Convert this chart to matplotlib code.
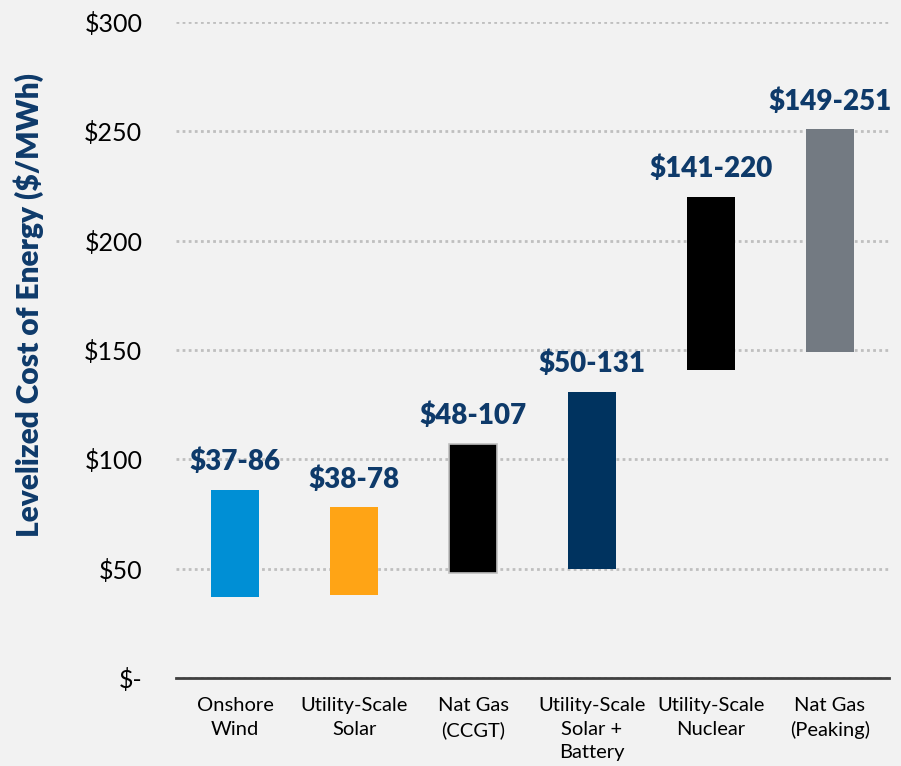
import numpy as np
import matplotlib
matplotlib.use('Agg')
import matplotlib.pyplot as plt

# LCOE ranges ($/MWh)
categories = ['Onshore\nWind', 'Utility-Scale\nSolar', 'Nat Gas\n(CCGT)',
              'Utility-Scale\nSolar +\nBattery', 'Utility-Scale\nNuclear', 'Nat Gas\n(Peaking)']
low = [37, 38, 48, 50, 141, 149]
high = [86, 78, 107, 131, 220, 251]
bar_colors = ['#008FD5', '#FFA415', '#000000', '#00335F', '#000000', '#737A82']
edge_colors = ['none', 'none', '#BFBFBF', 'none', 'none', 'none']
yticks = [0, 50, 100, 150, 200, 250, 300]
ytick_labels = ['$-', '$50', '$100', '$150', '$200', '$250', '$300']

navy = '#0E3A6A'
bg = '#F2F2F2'
plt.rcParams['font.family'] = ['Lato', 'DejaVu Sans']

fig = plt.figure(figsize=(9.01, 7.66), dpi=100, facecolor=bg)
ax = fig.add_axes([0.195, 0.115, 0.792, 0.856], facecolor=bg)

x = np.arange(len(categories))
heights = [h - l for l, h in zip(low, high)]
ax.bar(x, heights, bottom=low, width=0.40, color=bar_colors,
       edgecolor=edge_colors, linewidth=1.2, zorder=3)

for xi, l, h in zip(x, low, high):
    ax.text(xi, h + 9, f'${l}-{h}', ha='center', va='baseline',
            fontsize=20, fontweight='heavy', color=navy, zorder=4)

ax.set_xlim(-0.5, len(categories) - 0.5)
ax.set_ylim(0, 300)
ax.set_yticks(yticks)
ax.set_yticklabels(ytick_labels, fontsize=18, color='#000000')
ax.set_xticks(x)
ax.set_xticklabels(categories, fontsize=14.5, color='#000000', linespacing=1.45)
ax.tick_params(axis='both', length=0)
ax.tick_params(axis='y', pad=24)
ax.tick_params(axis='x', pad=14)

ax.yaxis.grid(True, linestyle=(0, (1, 1.2)), color='#BFBFBF', linewidth=2, zorder=0)
ax.set_axisbelow(True)
for s in ['top', 'right', 'left']:
    ax.spines[s].set_visible(False)
ax.spines['bottom'].set_color('#404040')
ax.spines['bottom'].set_linewidth(2)
ax.spines['bottom'].set_zorder(5)

ax.set_ylabel('Levelized Cost of Energy ($/MWh)', fontsize=21.5, fontweight='heavy',
              color=navy)
ax.yaxis.set_label_coords(-0.184, 0.569)

fig.savefig('out.png', dpi=100, facecolor=bg)
